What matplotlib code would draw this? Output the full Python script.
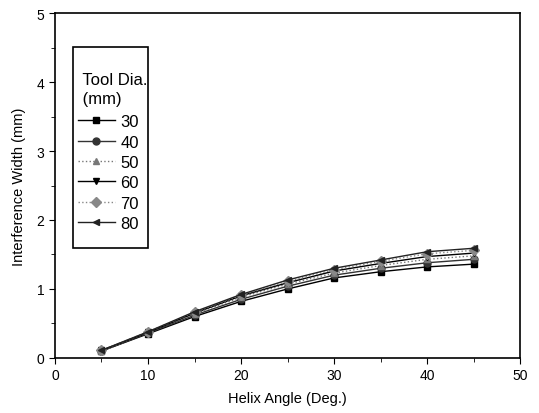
import numpy as np
import matplotlib
matplotlib.use("Agg")
import matplotlib.pyplot as plt
from matplotlib.ticker import MultipleLocator
from matplotlib.patches import Rectangle

plt.rcParams['font.family'] = ['Liberation Sans', 'DejaVu Sans']

helix = [5, 10, 15, 20, 25, 30, 35, 40, 45]
dia_labels = ["30", "40", "50", "60", "70", "80"]
w30 = [0.10, 0.35, 0.60, 0.82, 1.00, 1.16, 1.25, 1.32, 1.36]
w40 = [0.10, 0.36, 0.62, 0.85, 1.04, 1.20, 1.30, 1.38, 1.43]
w50 = [0.10, 0.37, 0.64, 0.88, 1.07, 1.23, 1.34, 1.43, 1.48]
w60 = [0.11, 0.37, 0.65, 0.90, 1.09, 1.26, 1.37, 1.47, 1.52]
w70 = [0.11, 0.38, 0.66, 0.91, 1.11, 1.28, 1.40, 1.51, 1.56]
w80 = [0.11, 0.38, 0.67, 0.92, 1.13, 1.30, 1.42, 1.54, 1.59]

series = [w30, w40, w50, w60, w70, w80]
styles = [
    dict(color="black", ls="-", marker="s"),
    dict(color="#333333", ls="-", marker="o"),
    dict(color="#777777", ls=":", marker="^"),
    dict(color="black", ls="-", marker="v"),
    dict(color="#888888", ls=":", marker="D"),
    dict(color="#222222", ls="-", marker="<"),
]

fig = plt.figure(figsize=(5.39, 4.14), dpi=100)
ax = fig.add_axes([0.102, 0.133, 0.863, 0.833])

for y, lab, st in zip(series, dia_labels, styles):
    ax.plot(helix, y, label=lab, lw=1.0, ms=5, mec=st["color"], **st)

ax.set_xlim(0, 50)
ax.set_ylim(0, 5)
ax.xaxis.set_major_locator(MultipleLocator(10))
ax.xaxis.set_minor_locator(MultipleLocator(5))
ax.yaxis.set_major_locator(MultipleLocator(1))
ax.yaxis.set_minor_locator(MultipleLocator(0.5))
ax.tick_params(which="both", direction="out", top=False, right=False, labelsize=10)
ax.tick_params(which="major", length=4)
ax.tick_params(which="minor", length=3)
for sp in ax.spines.values():
    sp.set_linewidth(1.2)

ax.set_xlabel("Helix Angle (Deg.)", fontsize=10.5, labelpad=6)
ax.set_ylabel("Interference Width (mm)", fontsize=10.5, labelpad=8)

# legend without its own frame; the box is drawn separately (taller, like the original)
leg = ax.legend(title="\n Tool Dia.\n (mm)", loc="upper left", bbox_to_anchor=(0.039, 0.90),
                fontsize=12, title_fontsize=12, frameon=False,
                handlelength=2.2, handletextpad=0.35,
                labelspacing=0.32, borderpad=0.3, borderaxespad=0)
leg._legend_box.align = "left"
leg.get_title().set_linespacing(1.35)
leg._legend_box.sep = 6

ax.add_patch(Rectangle((0.0387, 0.3188), 0.1613, 0.5826, transform=ax.transAxes,
                       fill=False, edgecolor="black", lw=1.2, zorder=5))

fig.savefig("out.png", dpi=100)
